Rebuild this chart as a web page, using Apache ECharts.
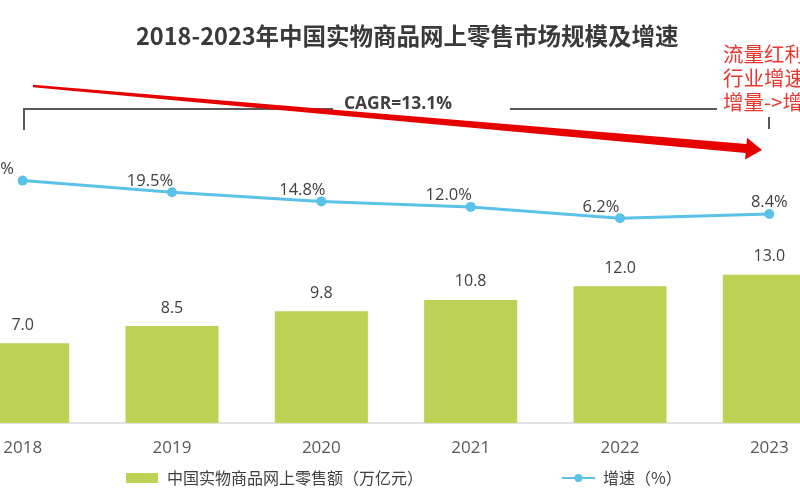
<!DOCTYPE html>
<html>
<head>
<meta charset="utf-8">
<script src="https://cdn.jsdelivr.net/npm/echarts@6/dist/echarts.min.js"></script>
<style>
html,body{margin:0;padding:0;background:#fff;overflow:hidden;width:800px;height:500px;}
#c{position:absolute;left:-52px;top:0;width:896px;height:500px;}
</style>
</head>
<body>
<div id="c"></div>
<script>
var years = ['2018', '2019', '2020', '2021', '2022', '2023'];
var salesValues = [7.0, 8.5, 9.8, 10.8, 12.0, 13.0];
var growthValues = [25.4, 19.5, 14.8, 12.0, 6.2, 8.4];
var barName = '中国实物商品网上零售额（万亿元）';
var lineName = '增速（%）';
var titleText = '2018-2023年中国实物商品网上零售市场规模及增速';
var cagrText = 'CAGR=13.1%';
var noteText = '流量红利见顶\n行业增速放缓\n增量->增效';

// style only: horizontal nudges of the growth labels (px)
var growthLabelShift = [-32, -22, -19, -22, -19, 0];

var FONT = '"Noto Sans CJK SC", "Open Sans", sans-serif';
var NUM = '"Open Sans", "Noto Sans CJK SC", sans-serif';
var OX = 52; // container offset (container starts 52px left of the page)
var chart = echarts.init(document.getElementById('c'), null, {renderer: 'canvas'});

// red arrow polygon geometry (annotation, page coordinates)
var ax0 = 33, ay0 = 86, ax1 = 762, ay1 = 150;
var dx = ax1 - ax0, dy = ay1 - ay0, L = Math.sqrt(dx * dx + dy * dy);
var ux = dx / L, uy = dy / L, nx = -uy, ny = ux;
var headLen = 16, headHalf = 11, shaftEnd = 4.5, shaftStart = 1.2;
var bx = ax1 - headLen * ux, by = ay1 - headLen * uy;
var arrowPts = [
  [ax0 - shaftStart * nx, ay0 - shaftStart * ny],
  [bx - shaftEnd * nx, by - shaftEnd * ny],
  [bx - headHalf * nx, by - headHalf * ny],
  [ax1, ay1],
  [bx + headHalf * nx, by + headHalf * ny],
  [bx + shaftEnd * nx, by + shaftEnd * ny],
  [ax0 + shaftStart * nx, ay0 + shaftStart * ny]
].map(function (p) { return [p[0] + OX, p[1]]; });

var growthData = growthValues.map(function (v, i) {
  return {value: v, label: {offset: [growthLabelShift[i], 0]}};
});

var option = {
  backgroundColor: '#ffffff',
  animation: false,
  title: {
    text: titleText,
    left: 131 + OX,
    top: 19,
    textStyle: {fontFamily: FONT, fontSize: 23.5, fontWeight: 'bold', color: '#3a3a3a'}
  },
  legend: [{
    data: [barName],
    left: 121 + OX,
    top: 465,
    itemWidth: 32,
    itemHeight: 10,
    icon: 'rect',
    textStyle: {fontFamily: FONT, fontSize: 16, color: '#404040', padding: [0, 0, 0, 4]}
  }, {
    data: [lineName],
    left: 556 + OX,
    top: 465,
    itemWidth: 33,
    itemHeight: 10,
    textStyle: {fontFamily: FONT, fontSize: 16, color: '#404040', padding: [0, 0, 0, 3]}
  }],
  grid: [
    {left: 0, right: 0, top: 252, height: 171},
    {left: 0, right: 0, top: 152, height: 78.4}
  ],
  xAxis: [{
    type: 'category',
    data: years,
    gridIndex: 0,
    boundaryGap: true,
    axisLine: {show: true, lineStyle: {color: '#d9d9d9', width: 1.5}},
    axisTick: {show: false},
    axisLabel: {fontFamily: NUM, fontSize: 17, color: '#595959', margin: 17}
  }, {
    type: 'category',
    data: years,
    gridIndex: 1,
    boundaryGap: true,
    show: false
  }],
  yAxis: [{
    type: 'value', gridIndex: 0, min: 0, max: 15, show: false, splitLine: {show: false}
  }, {
    type: 'value', gridIndex: 1, min: 0, max: 40, show: false, splitLine: {show: false}
  }],
  series: [{
    name: barName,
    type: 'bar',
    xAxisIndex: 0,
    yAxisIndex: 0,
    data: salesValues,
    barWidth: 93,
    itemStyle: {color: '#bdd155'},
    label: {
      show: true, position: 'top', distance: 10,
      fontFamily: NUM, fontSize: 16, color: '#404040',
      formatter: function (p) { return p.value.toFixed(1); }
    }
  }, {
    name: lineName,
    type: 'line',
    xAxisIndex: 1,
    yAxisIndex: 1,
    data: growthData,
    symbol: 'circle',
    symbolSize: 10,
    lineStyle: {color: '#5bc2e7', width: 3},
    itemStyle: {color: '#5bc2e7'},
    label: {
      show: true, position: 'top', distance: -2,
      fontFamily: NUM, fontSize: 16.5, color: '#404040',
      formatter: function (p) { return p.value.toFixed(1) + '%'; }
    }
  }],
  graphic: [
    {type: 'polyline', shape: {points: [[24 + OX, 130], [24 + OX, 109], [333 + OX, 109]]}, style: {stroke: '#595959', lineWidth: 2, fill: null}, z: 10},
    {type: 'line', shape: {x1: 510 + OX, y1: 109, x2: 717 + OX, y2: 109}, style: {stroke: '#595959', lineWidth: 2}, z: 10},
    {type: 'line', shape: {x1: 769 + OX, y1: 117, x2: 769 + OX, y2: 129}, style: {stroke: '#595959', lineWidth: 2}, z: 10},
    {type: 'text', x: 398 + OX, y: 104, style: {text: cagrText, fontFamily: NUM, fontSize: 17.5, fontWeight: 'bold', fill: '#404040', align: 'center', verticalAlign: 'middle'}, z: 11},
    {type: 'polygon', shape: {points: arrowPts}, style: {fill: '#e60000'}, z: 12},
    {type: 'text', x: 723 + OX, y: 42, style: {text: noteText, fontFamily: FONT, fontSize: 20.5, lineHeight: 24, fill: '#e8382f', align: 'left', verticalAlign: 'top'}, z: 13}
  ]
};
chart.setOption(option);
</script>
</body>
</html>
